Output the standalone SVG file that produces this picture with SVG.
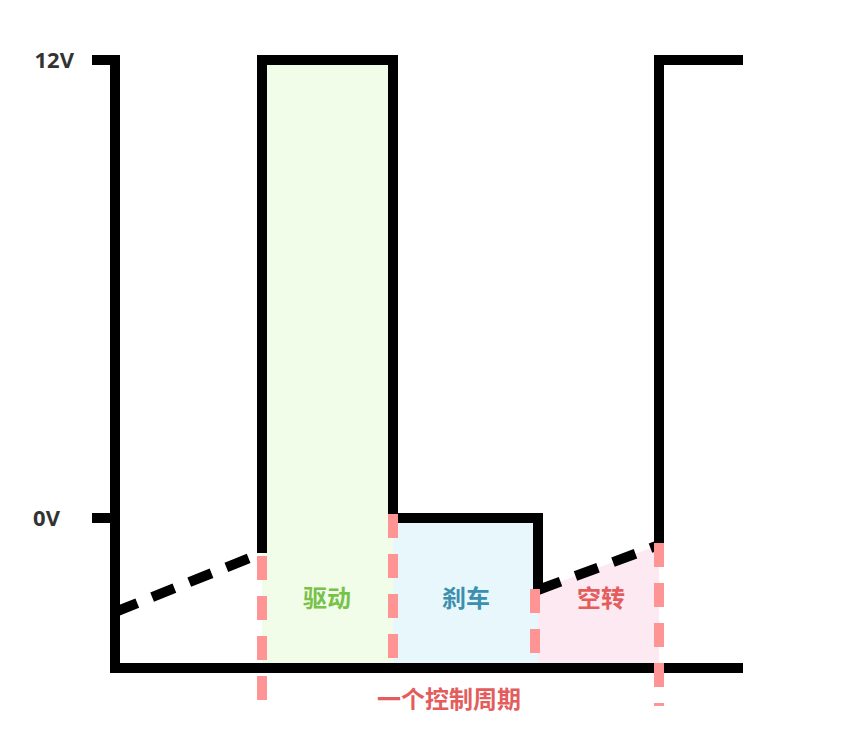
<svg xmlns="http://www.w3.org/2000/svg" width="847" height="751" viewBox="0 0 847 751">
<style>
.k{fill:none;stroke:#000;stroke-width:10;stroke-linejoin:miter}
.kd{fill:none;stroke:#000;stroke-width:10;stroke-dasharray:24 16}
.pd{fill:none;stroke:#ff9494;stroke-width:10;stroke-dasharray:24 16}
.t{font-family:"Noto Sans CJK SC","Noto Sans",sans-serif;font-weight:bold;font-size:24px;text-anchor:middle}
.ax{font-family:"Noto Sans","Liberation Sans",sans-serif;font-weight:bold;font-size:22px;fill:#333;text-anchor:end}
</style>
<rect width="847" height="751" fill="#fff"/>
<g id="fills">
<rect x="262" y="60" width="131" height="608" fill="#f2fde9"/>
<rect x="393" y="518" width="145" height="150" fill="#e8f7fc"/>
<polygon points="538,590 659,545 659,668 538,668" fill="#fde9f1"/>
</g>
<g id="axis">
<text class="ax" x="74" y="68">12V</text>
<text class="ax" x="60" y="526">0V</text>
<path class="k" d="M92,60H115V668H743M92,518H115"/>
</g>
<g id="connectors">
<path class="k" d="M262,553V60H393V518H538V590"/>
<path class="k" d="M659,545V60H743"/>
<path class="kd" d="M115,612L262,553"/>
<path class="kd" d="M538,590L659,545"/>
<path class="pd" d="M262,556V712"/>
<path class="pd" d="M393,514V668"/>
<path class="pd" d="M535,589V668"/>
<path class="pd" d="M659,543V706"/>
</g>
<g id="labels">
<text class="t" x="327" y="607" fill="#76c24a">驱动</text>
<text class="t" x="466" y="607" fill="#3c8fae">刹车</text>
<text class="t" x="601" y="607" fill="#e35d5d">空转</text>
<text class="t" x="449" y="708" fill="#e35d5d">一个控制周期</text>
</g>
</svg>
